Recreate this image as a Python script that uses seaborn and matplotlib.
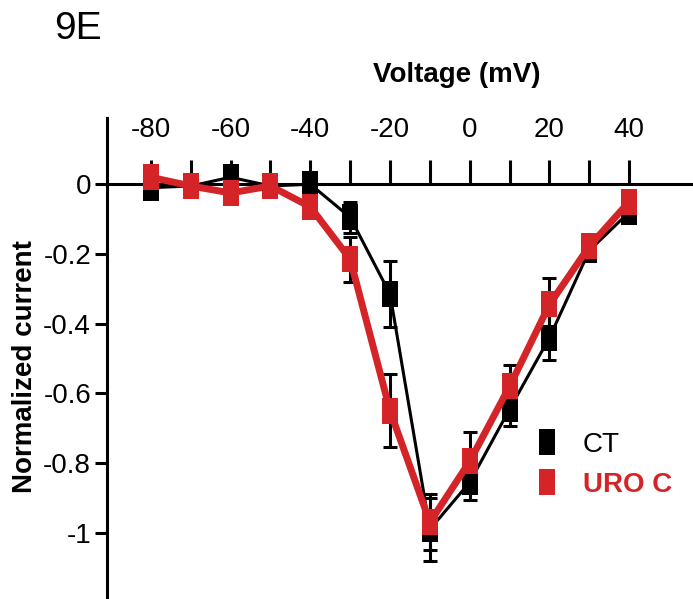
import matplotlib
matplotlib.use("Agg")
from matplotlib import pyplot as plt
from matplotlib.lines import Line2D
import numpy as np
import pandas as pd
import seaborn as sns

# values (mean and error for each holding voltage)
voltage = [-80, -70, -60, -50, -40, -30, -20, -10, 0, 10, 20, 30, 40]
ct_current = [-0.01, -0.005, 0.02, -0.005, 0.0, -0.095, -0.315, -0.99, -0.855, -0.645, -0.44, -0.19, -0.08]
ct_err = [0.01, 0.01, 0.01, 0.01, 0.01, 0.045, 0.095, 0.09, 0.05, 0.05, 0.065, 0.02, 0.02]
uro_current = [0.02, -0.005, -0.025, -0.005, -0.065, -0.215, -0.65, -0.97, -0.795, -0.58, -0.345, -0.178, -0.05]
uro_err = [0.01, 0.01, 0.01, 0.01, 0.01, 0.065, 0.105, 0.08, 0.085, 0.06, 0.075, 0.02, 0.02]

x_ticks = [-80, -70, -60, -50, -40, -30, -20, -10, 0, 10, 20, 30, 40]
x_ticklabels = ["-80", "", "-60", "", "-40", "", "-20", "", "0", "", "20", "", "40"]
y_ticks = [0, -0.2, -0.4, -0.6, -0.8, -1]
y_ticklabels = ["0", "-0.2", "-0.4", "-0.6", "-0.8", "-1"]

RED = "#d42428"
BLACK = "#000000"

sns.set_style("ticks")
plt.rcParams["font.family"] = ["Liberation Sans", "DejaVu Sans"]
plt.rcParams.update({
    "text.color": BLACK,
    "axes.labelcolor": BLACK,
    "axes.edgecolor": BLACK,
    "xtick.color": BLACK,
    "ytick.color": BLACK,
})

df = pd.concat([
    pd.DataFrame({"voltage": voltage, "current": ct_current, "group": "CT"}),
    pd.DataFrame({"voltage": voltage, "current": uro_current, "group": "URO C"}),
])

# tall rectangle marker like the original figure
rect = [(-0.62, -1), (0.62, -1), (0.62, 1), (-0.62, 1), (-0.62, -1)]

fig = plt.figure(figsize=(6.93, 5.99), dpi=100)
ax = fig.add_axes([107 / 693, 0, 586 / 693, 481 / 599])

ax.errorbar(voltage, ct_current, yerr=ct_err, fmt="none", ecolor=BLACK,
            elinewidth=2.2, capsize=5, capthick=2.2, zorder=4)
ax.errorbar(voltage, uro_current, yerr=uro_err, fmt="none", ecolor=BLACK,
            elinewidth=2.2, capsize=5, capthick=2.2, zorder=4)

sns.lineplot(data=df[df["group"] == "CT"], x="voltage", y="current", ax=ax,
             color=BLACK, lw=2.2, marker=rect, markersize=18.7, markeredgewidth=0,
             legend=False, zorder=5)
sns.lineplot(data=df[df["group"] == "URO C"], x="voltage", y="current", ax=ax,
             color=RED, lw=5, marker=rect, markersize=18.7, markeredgewidth=0,
             legend=False, zorder=6)

ax.set_xlim(-91, 56)
ax.set_ylim(-1.19, 0.19)

# x axis drawn through zero with ticks and labels on top
ax.spines["bottom"].set_visible(False)
ax.spines["right"].set_visible(False)
ax.spines["top"].set_position(("data", 0))
ax.spines["top"].set_linewidth(2.2)
ax.spines["left"].set_linewidth(2.2)
ax.xaxis.tick_top()
ax.xaxis.set_label_position("top")
ax.set_xticks(x_ticks)
ax.set_xticklabels(x_ticklabels)
ax.set_yticks(y_ticks)
ax.set_yticklabels(y_ticklabels)
ax.tick_params(axis="x", direction="out", length=17, width=2.2, pad=13, labelsize=20)
ax.tick_params(axis="y", direction="out", length=8.5, width=2.2, pad=3, labelsize=20)

ax.set_xlabel("Voltage (mV)", fontsize=20, fontweight="bold")
ax.xaxis.set_label_coords(0.597, 1.074)
ax.set_ylabel("Normalized current", fontsize=20, fontweight="bold")
ax.yaxis.set_label_coords(-0.118, 0.484)

handles = [
    Line2D([], [], color=BLACK, ls="none", marker=rect, markersize=18.7, markeredgewidth=0),
    Line2D([], [], color=RED, ls="none", marker=rect, markersize=18.7, markeredgewidth=0),
]
leg = ax.legend(handles, ["CT", "URO C"], loc="center left", bbox_to_anchor=(0.727, 0.279),
                frameon=False, fontsize=20, handlelength=1.0, handletextpad=0.8,
                borderpad=0, borderaxespad=0, labelspacing=0.5)
leg.get_texts()[1].set_color(RED)
leg.get_texts()[1].set_fontweight("bold")

fig.text(54 / 693, 1 - 11 / 599, "9E", fontsize=28, va="top", ha="left")

fig.savefig("out.png", dpi=100)
